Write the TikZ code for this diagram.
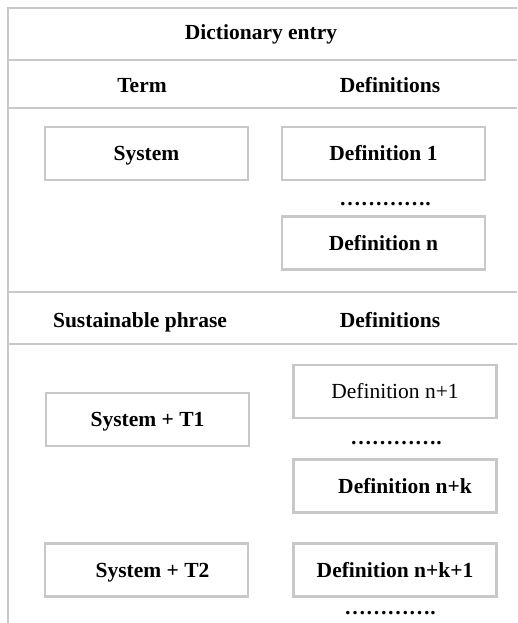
\documentclass[tikz,border=0pt]{standalone}
\usepackage{fontspec}
\setmainfont{Liberation Serif}
\definecolor{linegray}{RGB}{200,200,200}
\begin{document}
\begin{tikzpicture}[x=1pt,y=-1pt,
    font=\fontsize{21.5}{25}\selectfont\bfseries,
    rule/.style={draw=linegray, line width=2.4pt},
    entrybox/.style={rule, minimum width=203pt, minimum height=53pt, inner sep=0pt,
      text height=16pt, text depth=2pt},
    label/.style={inner sep=0pt, text height=16pt, text depth=2pt}]
  \useasboundingbox (0,0) rectangle (517,623);
  % frame
  \draw[rule] (8,623) -- (8,8) -- (517,8);
  \draw[rule] (8,60) -- (517,60);
  \draw[rule] (8,108) -- (517,108);
  \draw[rule] (8,292) -- (517,292);
  \draw[rule] (8,344) -- (517,344);
  % headings
  \node[label] (title) at (261,33) {Dictionary entry};
  \node[label] (term) at (142,85.5) {Term};
  \node[label] (defs) at (390,85.5) {Definitions};
  \node[label] (phrase) at (140,320) {Sustainable phrase};
  \node[label] (defs2) at (390,320) {Definitions};
  % term part
  \node[entrybox] (sys) at (146.5,153.5) {System};
  \node[entrybox] (def1) at (383.5,153.5) {Definition 1};
  \node[label] (dots1) at (385,198) {………….};
  \node[entrybox] (defn) at (383.5,243) {Definition n};
  % phrase part
  \node[entrybox] (sysT1) at (147.5,419.5) {System + T1};
  \node[entrybox, font=\fontsize{21.5}{25}\selectfont\mdseries] (defn1) at (395,391.5) {Definition n+1};
  \node[label] (dots2) at (396,437) {………….};
  \node[entrybox] (defnk) at (395,486) {\hspace*{20pt}Definition n+k};
  \node[entrybox] (sysT2) at (146.5,570) {\hspace*{12pt}System + T2};
  \node[entrybox] (defnk1) at (395,570) {Definition n+k+1};
  \node[label] (dots3) at (390,607) {………….};
\end{tikzpicture}
\end{document}
